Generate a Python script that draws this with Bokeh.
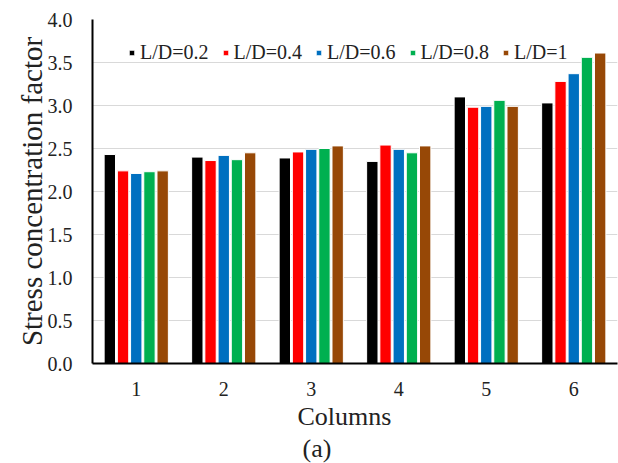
from bokeh.plotting import figure
from bokeh.models import Range1d, Legend, LegendItem, Title, FixedTicker, ColumnDataSource
from bokeh.embed import file_html
from bokeh.resources import INLINE

columns = [1, 2, 3, 4, 5, 6]
series_names = ["L/D=0.2", "L/D=0.4", "L/D=0.6", "L/D=0.8", "L/D=1"]
ld_02 = [2.43, 2.40, 2.39, 2.35, 3.10, 3.03]
ld_04 = [2.24, 2.36, 2.46, 2.54, 2.98, 3.28]
ld_06 = [2.21, 2.42, 2.49, 2.49, 2.99, 3.37]
ld_08 = [2.23, 2.37, 2.50, 2.45, 3.06, 3.56]
ld_10 = [2.24, 2.45, 2.53, 2.53, 2.99, 3.61]
series = [ld_02, ld_04, ld_06, ld_08, ld_10]
colors = ["#000000", "#FF0000", "#0070C0", "#00B050", "#974806"]
y_ticks = [0.0, 0.5, 1.0, 1.5, 2.0, 2.5, 3.0, 3.5, 4.0]
x_title = "Columns"
caption = "(a)"

FONT = "Liberation Serif"

p = figure(width=618, height=463, output_backend="svg", toolbar_location=None,
           x_range=Range1d(0.5, 6.5), y_range=Range1d(0, 4.0),
           min_border_left=92, min_border_right=1, min_border_top=19, min_border_bottom=10)
p.outline_line_color = None

step = 0.151
renderers = []
for i, (vals, col) in enumerate(zip(series, colors)):
    xs = [c + (i - 2) * step for c in columns]
    src = ColumnDataSource(dict(x=xs, top=vals))
    r = p.vbar(x="x", top="top", width=0.13, bottom=0, source=src,
               fill_color=col, line_color="white", line_width=1)
    renderers.append(r)

# axes
p.xaxis.ticker = FixedTicker(ticks=columns)
p.xaxis.major_label_overrides = {c: str(c) for c in columns}
p.yaxis.ticker = FixedTicker(ticks=y_ticks)
p.yaxis.major_label_overrides = {t: f"{t:.1f}" for t in y_ticks}
for ax in (p.xaxis, p.yaxis):
    ax.major_tick_line_color = None
    ax.minor_tick_line_color = None
    ax.axis_line_color = "black"
    ax.axis_line_width = 2
    ax.major_label_text_font = FONT
    ax.major_label_text_font_size = "20px"
    ax.major_label_text_color = "#222222"
    ax.axis_label_text_font = FONT
    ax.axis_label_text_font_style = "normal"
    ax.axis_label_text_color = "#222222"
p.xaxis.major_label_standoff = 12
p.yaxis.major_label_standoff = 14
p.yaxis.axis_label = "Stress concentration factor"
p.yaxis.axis_label_text_font_size = "29px"
p.yaxis.axis_label_standoff = -3

p.xgrid.grid_line_color = None
p.ygrid.grid_line_color = "#d9d9d9"
p.ygrid.grid_line_width = 1

legend = Legend(items=[LegendItem(label=n, renderers=[r]) for n, r in zip(series_names, renderers)],
                orientation="horizontal", location=(36, 299),
                glyph_width=7, glyph_height=7, label_standoff=5, spacing=13,
                label_text_font=FONT, label_text_font_size="20px",
                label_text_color="#222222",
                background_fill_alpha=0, border_line_color=None,
                padding=0, margin=0)
p.add_layout(legend, "center")

t1 = Title(text=x_title, align="left", offset=205, standoff=2,
           text_font=FONT, text_font_size="26px", text_font_style="normal", text_color="#222222")
t2 = Title(text=caption, align="left", offset=210, standoff=1,
           text_font=FONT, text_font_size="26px", text_font_style="normal", text_color="#222222")
p.add_layout(t1, "below")
p.add_layout(t2, "below")

open("out.html", "w").write(file_html(p, INLINE))
